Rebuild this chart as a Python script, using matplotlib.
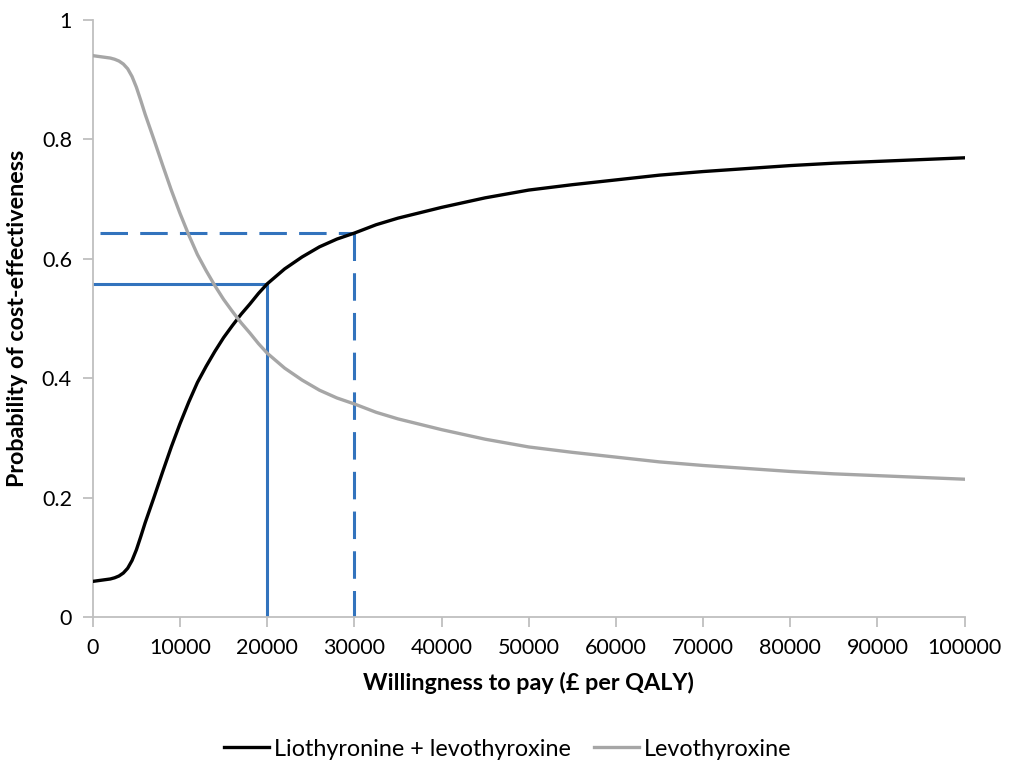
import numpy as np
import matplotlib
matplotlib.use("Agg")
import matplotlib.pyplot as plt

# Data
wtp = [0, 1000, 2000, 2500, 3000, 3500, 4000, 4500, 5000, 5500, 6000, 7000, 8000, 9000, 10000,
       11000, 12000, 13000, 14000, 15000, 16000, 17000, 18000, 19000, 20000,
       22000, 24000, 26000, 28000, 30000, 32500, 35000, 37500, 40000,
       45000, 50000, 55000, 60000, 65000, 70000, 75000, 80000, 85000,
       90000, 95000, 100000]
combo = [0.060, 0.062, 0.064, 0.066, 0.069, 0.074, 0.082, 0.095, 0.113, 0.135, 0.158, 0.200, 0.243, 0.285, 0.324,
         0.360, 0.393, 0.420, 0.445, 0.468, 0.488, 0.507, 0.524, 0.542, 0.558,
         0.583, 0.603, 0.620, 0.633, 0.643, 0.657, 0.668, 0.677, 0.686,
         0.702, 0.715, 0.724, 0.732, 0.740, 0.746, 0.751, 0.756, 0.760,
         0.763, 0.766, 0.769]
levo = [0.940, 0.938, 0.936, 0.934, 0.931, 0.926, 0.918, 0.905, 0.887, 0.865, 0.842, 0.800, 0.757, 0.715, 0.676,
        0.640, 0.607, 0.580, 0.555, 0.532, 0.512, 0.493, 0.476, 0.458, 0.442,
        0.417, 0.397, 0.380, 0.367, 0.357, 0.343, 0.332, 0.323, 0.314,
        0.298, 0.285, 0.276, 0.268, 0.260, 0.254, 0.249, 0.244, 0.240,
        0.237, 0.234, 0.231]
thresholds = [20000, 30000]
x_ticks = [0, 10000, 20000, 30000, 40000, 50000, 60000, 70000, 80000, 90000, 100000]
y_ticks = [0, 0.2, 0.4, 0.6, 0.8, 1]
y_tick_labels = ["0", "0.2", "0.4", "0.6", "0.8", "1"]

# Lato is the closest installed match to Calibri
plt.rcParams["font.family"] = ["Lato", "DejaVu Sans"]

fig = plt.figure(figsize=(10.09, 7.62), dpi=100)
ax = fig.add_axes([0.092, 0.190, 0.864, 0.784])

blue = "#3273bd"
axis_col = "#bfbfbf"
fs = 15.5     # tick labels
fs_lab = 16.8 # axis titles and legend

# threshold reference lines
p20 = np.interp(thresholds[0], wtp, combo)
p30 = np.interp(thresholds[1], wtp, combo)
ax.plot([0, thresholds[0]], [p20, p20], color=blue, lw=2.2)
ax.plot([thresholds[0], thresholds[0]], [0, p20], color=blue, lw=2.2)
ax.plot([800, thresholds[1]], [p30, p30], color=blue, lw=2.2, dashes=(9, 4))
ax.plot([thresholds[1], thresholds[1]], [p30, 0], color=blue, lw=2.2, dashes=(9, 4))

ax.plot(wtp, combo, color="black", lw=2.4, label="Liothyronine + levothyroxine", zorder=3)
ax.plot(wtp, levo, color="#a6a6a6", lw=2.4, label="Levothyroxine", zorder=3)

ax.set_xlim(0, 100000)
ax.set_ylim(0, 1)
ax.set_xticks(x_ticks)
ax.set_xticklabels([str(t) for t in x_ticks])
ax.set_yticks(y_ticks)
ax.set_yticklabels(y_tick_labels)

for s in ["top", "right"]:
    ax.spines[s].set_visible(False)
for s in ["left", "bottom"]:
    ax.spines[s].set_color(axis_col)
    ax.spines[s].set_linewidth(1.3)
ax.tick_params(axis="both", colors=axis_col, length=7, width=1.3, labelsize=fs,
               labelcolor="black", pad=8)

ax.set_xlabel("Willingness to pay (£ per QALY)", fontsize=fs_lab, fontweight="bold", labelpad=10)
ax.set_ylabel("Probability of cost-effectiveness", fontsize=fs_lab, fontweight="bold", labelpad=10)

fig.legend(loc="center", bbox_to_anchor=(0.503, 0.017), ncol=2, frameon=False,
           fontsize=fs_lab, handlelength=1.95, columnspacing=1.0, handletextpad=0.18)

fig.savefig("out.png", dpi=100)
